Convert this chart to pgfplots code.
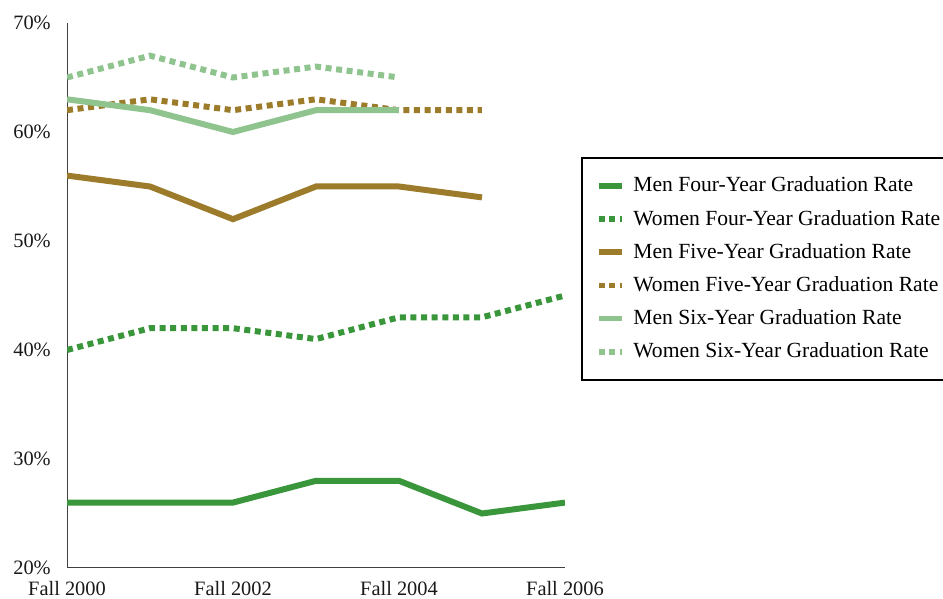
\documentclass[border=0pt]{standalone}
\usepackage{fontspec}
\setmainfont{Liberation Serif}
\usepackage{pgfplots}
\pgfplotsset{compat=1.18}
\definecolor{dgreen}{HTML}{3A963A}
\definecolor{brown}{HTML}{9C7B2A}
\definecolor{lgreen}{HTML}{8FC48F}
\begin{document}
\begin{tikzpicture}
\useasboundingbox (-33.5pt,-15.5pt) rectangle (438pt,284pt);
\begin{axis}[
  at={(0,0)}, anchor=south west,
  scale only axis, width=249pt, height=272.5pt,
  xmin=0, xmax=6, ymin=20, ymax=70,
  axis x line*=bottom, axis y line*=left,
  axis line style={-, draw=black!75, line width=0.5pt},
  major tick length=0pt,
  xtick={0,2,4,6},
  xticklabels={Fall 2000,Fall 2002,Fall 2004,Fall 2006},
  ytick={20,30,40,50,60,70},
  yticklabels={20\%,30\%,40\%,50\%,60\%,70\%},
  tick label style={font=\fontsize{10.2}{12}\selectfont, text=black!90},
  x tick label style={yshift=-3.3pt},
  y tick label style={xshift=-4.6pt},
  legend style={at={(axis description cs:1.032,0.754)}, anchor=north west,
    draw=black, line width=0.8pt, inner xsep=7pt, inner ysep=8pt,
    row sep=4.6pt, font=\fontsize{10.8}{12}\selectfont,
    nodes={inner sep=1.5pt, anchor=west},
    /tikz/every odd column/.append style={column sep=3pt}},
  legend cell align=left,
  legend image code/.code={\draw[#1, line width=2.8pt] (0pt,0pt) -- (11.5pt,0pt);},
  every axis plot/.append style={line width=3pt, line join=miter},
  dots/.style={dash pattern=on 3pt off 2.3pt},
]
\addplot[dgreen] coordinates {(0,26)(1,26)(2,26)(3,28)(4,28)(5,25)(6,26)};
\addlegendentry{Men Four-Year Graduation Rate}
\addplot[dgreen, dots] coordinates {(0,40)(1,42)(2,42)(3,41)(4,43)(5,43)(6,45)};
\addlegendentry{Women Four-Year Graduation Rate}
\addplot[brown] coordinates {(0,56)(1,55)(2,52)(3,55)(4,55)(5,54)};
\addlegendentry{Men Five-Year Graduation Rate}
\addplot[brown, dots] coordinates {(0,62)(1,63)(2,62)(3,63)(4,62)(5,62)};
\addlegendentry{Women Five-Year Graduation Rate}
\addplot[lgreen] coordinates {(0,63)(1,62)(2,60)(3,62)(4,62)};
\addlegendentry{Men Six-Year Graduation Rate}
\addplot[lgreen, dots] coordinates {(0,65)(1,67)(2,65)(3,66)(4,65)};
\addlegendentry{Women Six-Year Graduation Rate}
\end{axis}
\end{tikzpicture}
\end{document}
